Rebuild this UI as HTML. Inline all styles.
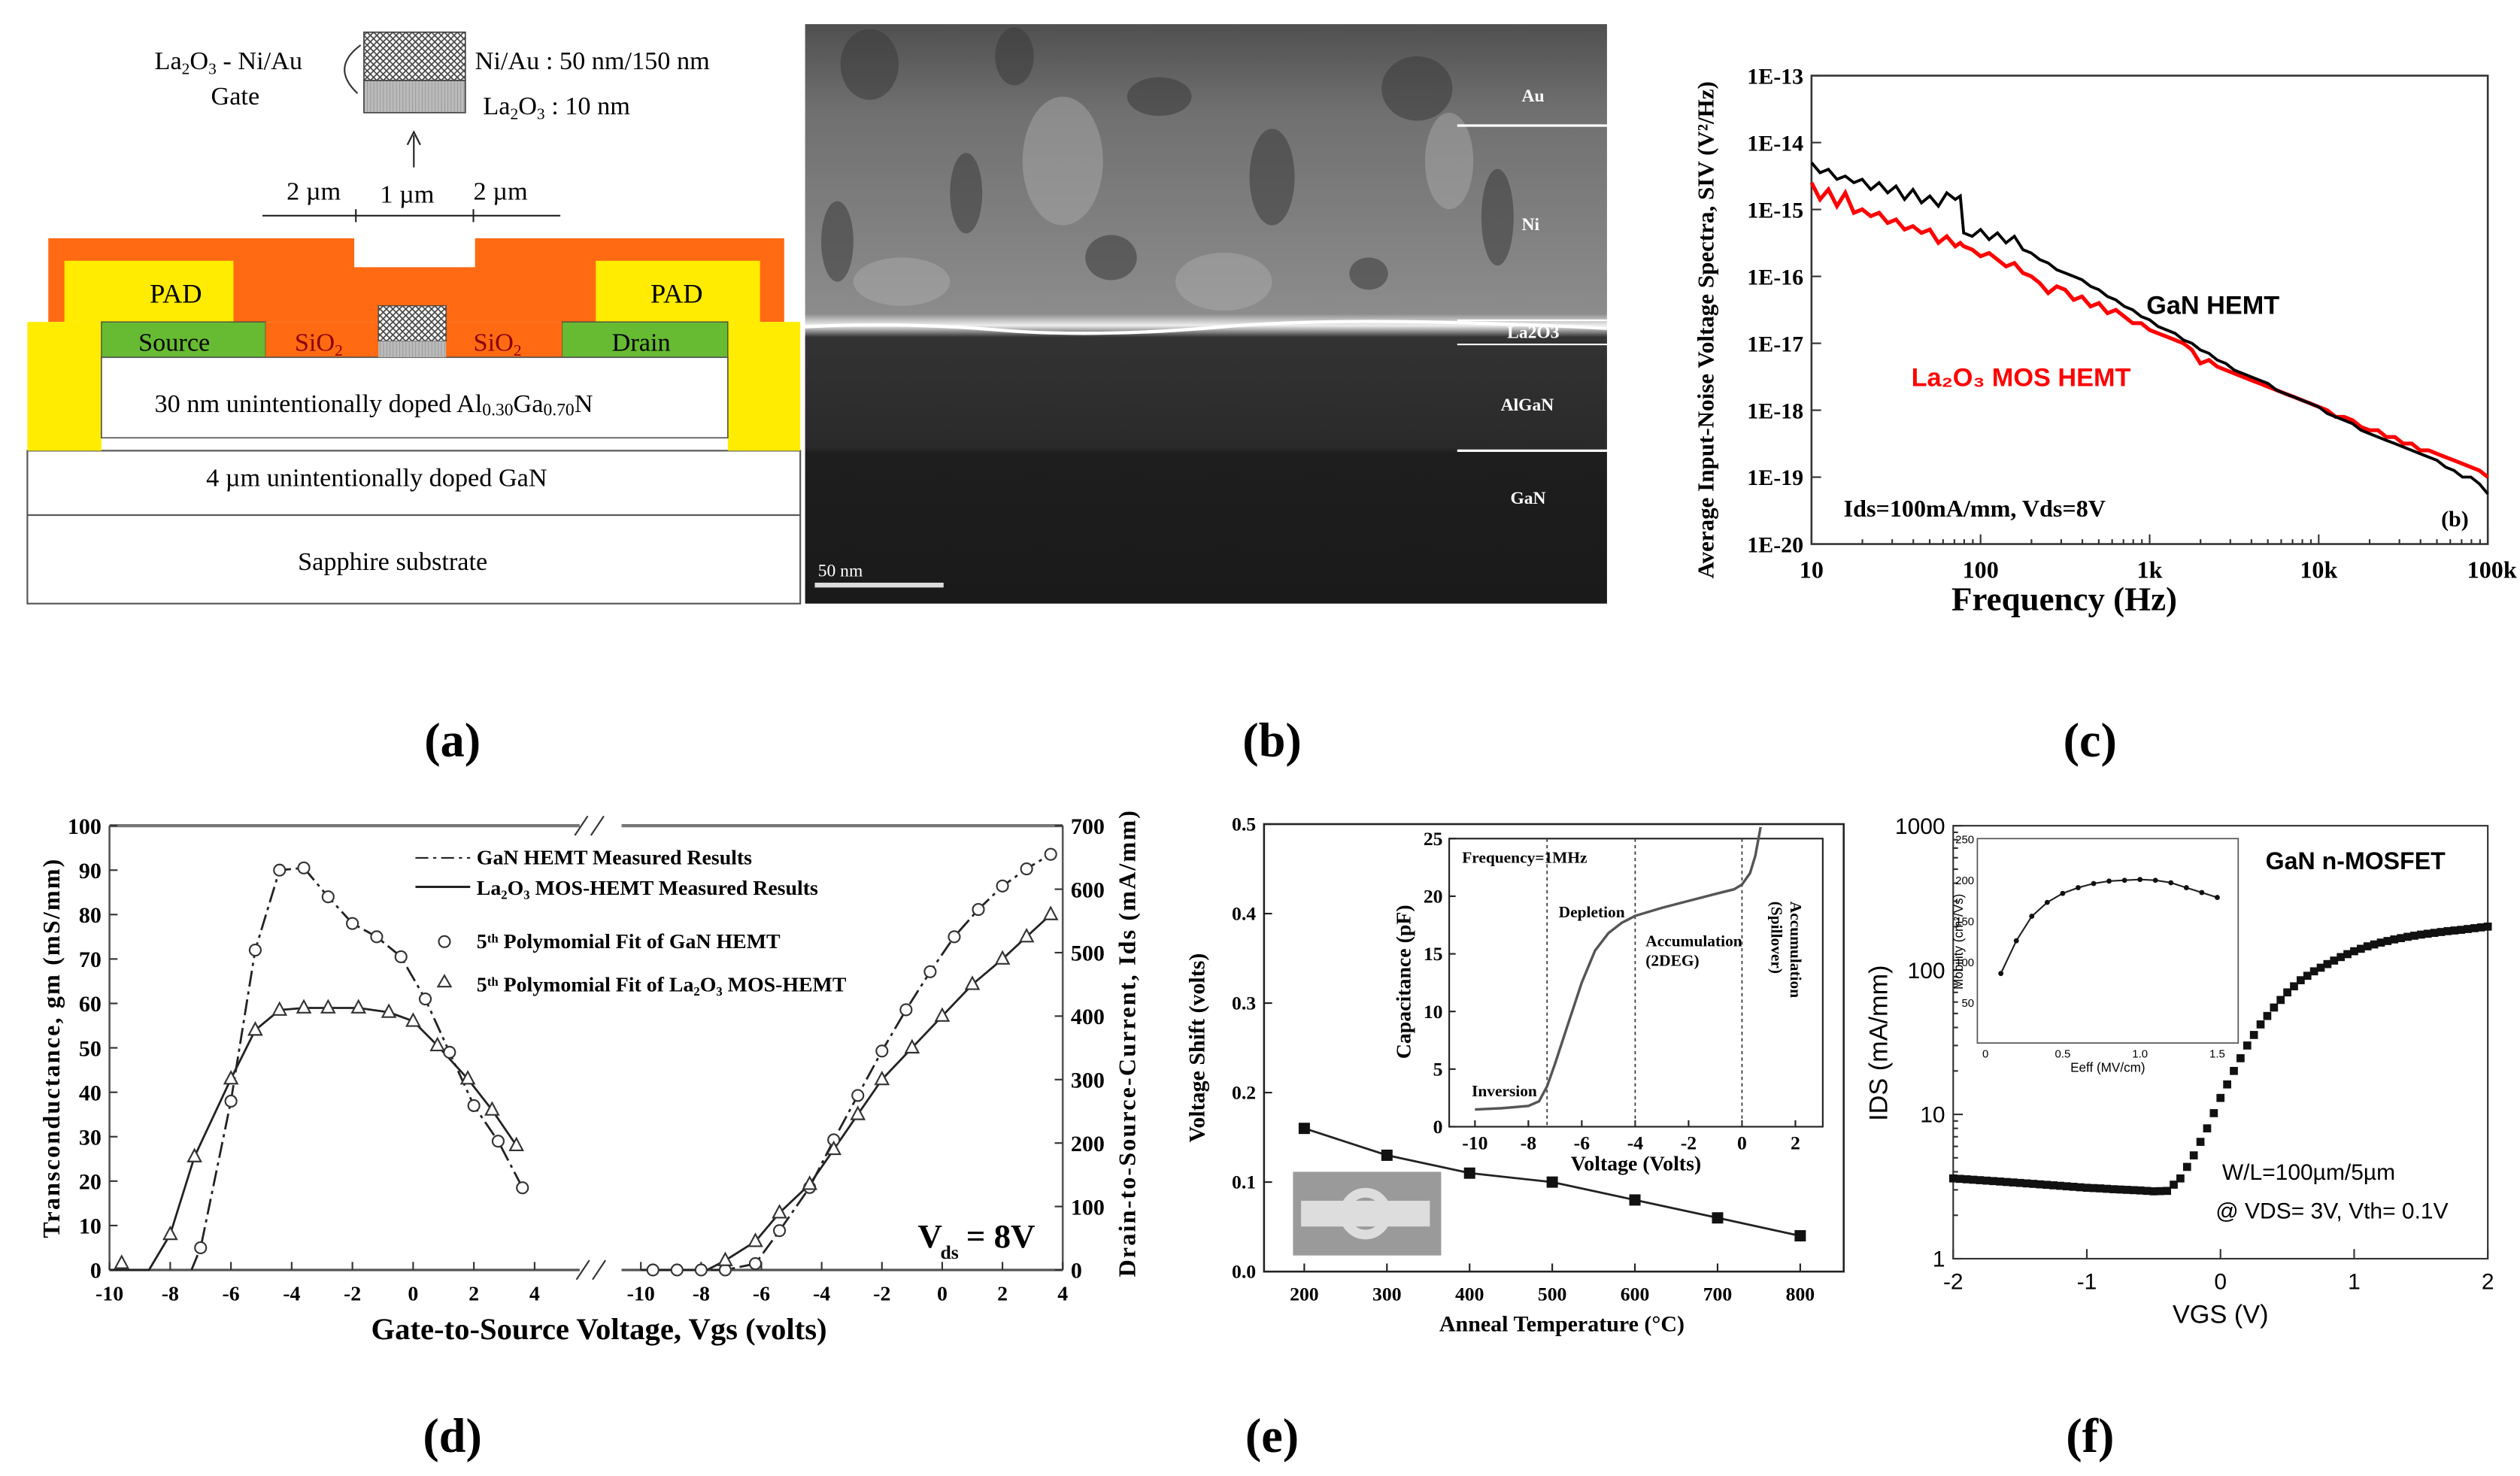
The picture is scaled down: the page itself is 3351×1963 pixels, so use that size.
<!DOCTYPE html>
<html><head><meta charset="utf-8"><style>
html,body{margin:0;padding:0;background:#fff}
svg{display:block}
.s{font-family:"Liberation Serif",serif}
.a{font-family:"Liberation Sans",sans-serif}
</style></head><body>
<svg id="fig" xmlns="http://www.w3.org/2000/svg" width="3351" height="1963" viewBox="0 0 1565 917" preserveAspectRatio="none">
<defs>
<pattern id="hatch" width="4" height="4" patternUnits="userSpaceOnUse"><rect width="4" height="4" fill="#fff"/><path d="M0 0L4 4M4 0L0 4" stroke="#444" stroke-width="0.8"/></pattern>
<pattern id="vl" width="2" height="4" patternUnits="userSpaceOnUse"><rect width="2" height="4" fill="#bbb"/><path d="M0 0V4" stroke="#888" stroke-width="0.6"/></pattern>
<linearGradient id="tem" x1="0" y1="0" x2="0" y2="1">
<stop offset="0" stop-color="#505050"/><stop offset="0.15" stop-color="#707070"/><stop offset="0.5" stop-color="#8c8c8c"/><stop offset="0.52" stop-color="#eee"/><stop offset="0.54" stop-color="#333"/><stop offset="0.73" stop-color="#2a2a2a"/><stop offset="0.74" stop-color="#1e1e1e"/><stop offset="1" stop-color="#1a1a1a"/></linearGradient>
</defs>

<!-- Panel a -->
<g class="s">
<rect x="17" y="280" width="480" height="95" fill="#fff" stroke="#555" stroke-width="1"/>
<line x1="17" y1="320" x2="497" y2="320" stroke="#555"/>
<path d="M30 200V148H220V166H295V148H487V200Z" fill="#ff6a13"/>
<rect x="17" y="200" width="46" height="80" fill="#ffec00"/>
<rect x="452" y="200" width="45" height="80" fill="#ffec00"/>
<rect x="40" y="162" width="105" height="38" fill="#ffec00"/>
<rect x="370" y="162" width="102" height="38" fill="#ffec00"/>
<rect x="63" y="200" width="102" height="22" fill="#66bb33" stroke="#444" stroke-width="0.6"/>
<rect x="349" y="200" width="103" height="22" fill="#66bb33" stroke="#444" stroke-width="0.6"/>
<rect x="165" y="200" width="184" height="22" fill="#ff6a13"/>
<rect x="63" y="222" width="389" height="50" fill="#fff" stroke="#555" stroke-width="0.8"/>
<rect x="235" y="190" width="42" height="22" fill="url(#hatch)" stroke="#444" stroke-width="0.6"/>
<rect x="235" y="212" width="42" height="10" fill="url(#vl)"/>
<text x="93" y="188" font-size="17">PAD</text>
<text x="404" y="188" font-size="17">PAD</text>
<text x="86" y="218" font-size="16">Source</text>
<text x="380" y="218" font-size="16">Drain</text>
<text x="183" y="218" font-size="16" fill="#8b0000">SiO<tspan font-size="10" dy="3">2</tspan></text>
<text x="294" y="218" font-size="16" fill="#8b0000">SiO<tspan font-size="10" dy="3">2</tspan></text>
<text x="96" y="256" font-size="16">30 nm unintentionally doped Al<tspan font-size="11" dy="2">0.30</tspan><tspan dy="-2">Ga</tspan><tspan font-size="11" dy="2">0.70</tspan><tspan dy="-2">N</tspan></text>
<text x="128" y="302" font-size="16">4 µm unintentionally doped GaN</text>
<text x="185" y="354" font-size="16">Sapphire substrate</text>
<rect x="226" y="20" width="63" height="30" fill="url(#hatch)" stroke="#444" stroke-width="0.8"/>
<rect x="226" y="50" width="63" height="20" fill="url(#vl)" stroke="#444" stroke-width="0.8"/>
<text x="96" y="43" font-size="16">La<tspan font-size="10" dy="3">2</tspan><tspan dy="-3">O</tspan><tspan font-size="10" dy="3">3</tspan><tspan dy="-3"> - Ni/Au</tspan></text>
<text x="131" y="65" font-size="16">Gate</text>
<path d="M224 28Q205 42 222 58" fill="none" stroke="#333"/>
<text x="295" y="43" font-size="16">Ni/Au : 50 nm/150 nm</text>
<text x="300" y="71" font-size="16">La<tspan font-size="10" dy="3">2</tspan><tspan dy="-3">O</tspan><tspan font-size="10" dy="3">3</tspan><tspan dy="-3"> : 10 nm</tspan></text>
<path d="M257 104V84M253 90L257 82L261 90" fill="none" stroke="#222"/>
<text x="178" y="124" font-size="16">2 µm</text>
<text x="236" y="126" font-size="16">1 µm</text>
<text x="294" y="124" font-size="16">2 µm</text>
<path d="M163 134H348M221 130V138M294 130V138" stroke="#222"/>
</g>

<!-- Panel b -->
<g>
<rect x="500" y="15" width="498" height="360" fill="url(#tem)"/>
<g fill="#3a3a3a" opacity="0.55">
<ellipse cx="540" cy="40" rx="18" ry="22"/><ellipse cx="630" cy="35" rx="12" ry="18"/><ellipse cx="720" cy="60" rx="20" ry="12"/><ellipse cx="880" cy="55" rx="22" ry="20"/><ellipse cx="600" cy="120" rx="10" ry="25"/><ellipse cx="790" cy="110" rx="14" ry="30"/><ellipse cx="930" cy="135" rx="10" ry="30"/><ellipse cx="690" cy="160" rx="16" ry="14"/><ellipse cx="850" cy="170" rx="12" ry="10"/><ellipse cx="520" cy="150" rx="10" ry="25"/>
</g>
<g fill="#b0b0b0" opacity="0.45">
<ellipse cx="660" cy="100" rx="25" ry="40"/><ellipse cx="560" cy="175" rx="30" ry="15"/><ellipse cx="760" cy="175" rx="30" ry="18"/><ellipse cx="900" cy="100" rx="15" ry="30"/>
</g>
<path d="M500 203Q560 200 620 205T760 203T998 204" stroke="#fff" stroke-width="2" fill="none"/>
<line x1="905" y1="78" x2="998" y2="78" stroke="#fff" stroke-width="1.5"/>
<line x1="905" y1="199" x2="998" y2="199" stroke="#fff" stroke-width="1"/>
<line x1="905" y1="214" x2="998" y2="214" stroke="#fff" stroke-width="1"/>
<line x1="905" y1="280" x2="998" y2="280" stroke="#fff" stroke-width="1.5"/>
<g class="s" font-size="11" fill="#fff" font-weight="bold">
<text x="945" y="63">Au</text><text x="945" y="143">Ni</text><text x="936" y="210">La2O3</text><text x="932" y="255">AlGaN</text><text x="938" y="313">GaN</text>
<text x="508" y="358" font-weight="normal">50 nm</text></g>
<rect x="506" y="362" width="80" height="3" fill="#ddd"/>
</g>

<!-- Panel labels -->
<g class="s" font-size="30" font-weight="bold">
<text x="281" y="470" text-anchor="middle">(a)</text><text x="790" y="470" text-anchor="middle">(b)</text><text x="1298" y="470" text-anchor="middle">(c)</text>
<text x="281" y="902" text-anchor="middle">(d)</text><text x="790" y="902" text-anchor="middle">(e)</text><text x="1298" y="902" text-anchor="middle">(f)</text>
</g>
<g id="gc"></g>
<g id="gd"></g>
<g id="ge"></g>
<g id="gf"></g>
</svg>
<script>
// ---------- data ----------
const cFreqExp=[1.0,1.05,1.1,1.15,1.2,1.25,1.3,1.35,1.4,1.45,1.5,1.55,1.6,1.65,1.7,1.75,1.8,1.85,1.88,1.9,1.95,2.0,2.05,2.1,2.15,2.2,2.25,2.3,2.35,2.4,2.45,2.5,2.55,2.6,2.65,2.7,2.75,2.8,2.85,2.9,2.95,3.0,3.05,3.1,3.15,3.2,3.25,3.3,3.35,3.4,3.45,3.5,3.55,3.6,3.65,3.7,3.75,3.8,3.85,3.9,3.95,4.0,4.05,4.1,4.15,4.2,4.25,4.3,4.35,4.4,4.45,4.5,4.55,4.6,4.65,4.7,4.75,4.8,4.85,4.9,4.95,5.0];
const cGanLog=[-14.3,-14.45,-14.4,-14.55,-14.5,-14.6,-14.55,-14.7,-14.6,-14.75,-14.65,-14.85,-14.7,-14.9,-14.8,-14.95,-14.75,-14.85,-14.8,-15.35,-15.4,-15.3,-15.45,-15.35,-15.5,-15.4,-15.6,-15.65,-15.75,-15.8,-15.9,-15.95,-16.0,-16.05,-16.15,-16.2,-16.3,-16.35,-16.45,-16.5,-16.6,-16.65,-16.75,-16.8,-16.85,-16.95,-17.0,-17.1,-17.15,-17.25,-17.3,-17.4,-17.45,-17.5,-17.55,-17.6,-17.7,-17.75,-17.8,-17.85,-17.9,-17.95,-18.05,-18.1,-18.15,-18.2,-18.3,-18.35,-18.4,-18.45,-18.5,-18.55,-18.6,-18.65,-18.7,-18.75,-18.85,-18.9,-19.0,-19.0,-19.1,-19.25];
const cLaLog=[-14.6,-14.85,-14.7,-14.95,-14.75,-15.05,-15.0,-15.1,-15.05,-15.2,-15.15,-15.3,-15.25,-15.35,-15.3,-15.5,-15.4,-15.55,-15.5,-15.55,-15.6,-15.7,-15.65,-15.75,-15.85,-15.8,-15.95,-16.0,-16.1,-16.25,-16.15,-16.2,-16.35,-16.3,-16.45,-16.4,-16.55,-16.5,-16.6,-16.7,-16.7,-16.8,-16.85,-16.9,-16.95,-17.0,-17.1,-17.3,-17.25,-17.35,-17.4,-17.45,-17.5,-17.55,-17.6,-17.65,-17.7,-17.75,-17.8,-17.85,-17.9,-17.95,-18.0,-18.1,-18.1,-18.15,-18.25,-18.3,-18.3,-18.4,-18.4,-18.5,-18.5,-18.6,-18.6,-18.65,-18.7,-18.75,-18.8,-18.85,-18.9,-19.0];
const cYTicks=["1E-13","1E-14","1E-15","1E-16","1E-17","1E-18","1E-19","1E-20"];
const cXTicks=["10","100","1k","10k","100k"];

const dGmGanV=[-7,-6,-5.2,-4.4,-3.6,-2.8,-2,-1.2,-0.4,0.4,1.2,2,2.8,3.6];
const dGmGan=[5,38,72,90,90.5,84,78,75,70.5,61,49,37,29,18.5];
const dGmLaV=[-9.6,-8,-7.2,-6,-5.2,-4.4,-3.6,-2.8,-1.8,-0.8,0,0.8,1.8,2.6,3.4];
const dGmLa=[1.5,8,25.5,43,54,58.5,59,59,59,58,56,50.5,43,36,28];
const dIdGanV=[-9.6,-8.8,-8,-7.2,-6.2,-5.4,-4.4,-3.6,-2.8,-2,-1.2,-0.4,0.4,1.2,2,2.8,3.6];
const dIdGan=[0,0,0,0,10,62,130,205,275,345,410,470,525,568,605,632,655];
const dIdLaV=[-7.2,-6.2,-5.4,-4.4,-3.6,-2.8,-2,-1,0,1,2,2.8,3.6];
const dIdLa=[15,45,90,135,190,245,300,350,400,450,490,525,560];
const dXTicks=[-10,-8,-6,-4,-2,0,2,4];
const dYTicks=[0,10,20,30,40,50,60,70,80,90,100];
const dY2Ticks=[0,100,200,300,400,500,600,700];

const eTemp=[200,300,400,500,600,700,800];
const eShift=[0.16,0.13,0.11,0.10,0.08,0.06,0.04];
const eXTicks=[200,300,400,500,600,700,800];
const eYTicks=[0,0.1,0.2,0.3,0.4,0.5];
const eCvV=[-10,-9,-8,-7.6,-7.3,-7,-6.5,-6,-5.5,-5,-4.5,-4,-3,-2,-1,-0.3,0,0.3,0.5,0.7];
const eCvC=[1.5,1.6,1.8,2.2,3.5,5.5,9,12.5,15.3,16.8,17.7,18.3,19,19.6,20.2,20.6,21,22,23.5,26];
const eInXTicks=[-10,-8,-6,-4,-2,0,2];
const eInYTicks=[0,5,10,15,20,25];

const fVgs=[-2,-1.9,-1.8,-1.7,-1.6,-1.5,-1.4,-1.3,-1.2,-1.1,-1,-0.9,-0.8,-0.7,-0.6,-0.5,-0.4,-0.3,-0.2,-0.1,0,0.1,0.2,0.3,0.4,0.5,0.6,0.7,0.8,0.9,1,1.1,1.2,1.3,1.4,1.5,1.6,1.7,1.8,1.9,2];
const fIds=[3.6,3.55,3.5,3.45,3.4,3.35,3.3,3.25,3.2,3.15,3.1,3.07,3.03,3.0,2.97,2.93,2.95,3.6,5.2,8,13,20,30,42,55,70,85,98,110,123,135,146,155,163,170,176,181,186,190,195,200];
const fXTicks=[-2,-1,0,1,2];
const fYTicks=["1","10","100","1000"];
const fMobE=[0.1,0.2,0.3,0.4,0.5,0.6,0.7,0.8,0.9,1.0,1.1,1.2,1.3,1.4,1.5];
const fMob=[85,125,155,172,183,190,195,198,199,200,199,196,190,184,178];
const fInXTicks=["0","0.5","1.0","1.5"];
const fInYTicks=[50,100,150,200,250];

// ---------- helpers ----------
const NS="http://www.w3.org/2000/svg";
function mk(p,t,a,txt){const e=document.createElementNS(NS,t);for(const k in a)e.setAttribute(k,a[k]);if(txt!==undefined)e.textContent=txt;p.appendChild(e);return e;}
function poly(xs,ys,fx,fy){return xs.map((v,i)=>(i?'L':'M')+fx(v).toFixed(1)+' '+fy(ys[i]).toFixed(1)).join('');}

// ---------- panel c ----------
(function(){
const g=document.getElementById('gc');
const X0=1125,X1=1545,Y0=338,Y1=47;
const fx=e=>X0+(e-1)/4*(X1-X0), fy=l=>Y1+(-13-l)/7*(Y0-Y1);
let r=mk(g,'rect',{x:X0,y:Y1,width:X1-X0,height:Y0-Y1,fill:'none',stroke:'#333','stroke-width':1.2});

cYTicks.forEach((t,i)=>{const y=Y1+i*(Y0-Y1)/7;mk(g,'line',{x1:X0,y1:y,x2:X0+6,y2:y,stroke:'#333'});
 let e=mk(g,'text',{x:X0-5,y:y+5,'text-anchor':'end','font-size':14,'font-weight':'bold',class:'s'},t);
 });
cXTicks.forEach((t,i)=>{const x=X0+i*(X1-X0)/4;mk(g,'line',{x1:x,y1:Y0,x2:x,y2:Y0-6,stroke:'#333'});
 for(let k=2;k<10&&i<4;k++){const xm=x+Math.log10(k)*(X1-X0)/4;mk(g,'line',{x1:xm,y1:Y0,x2:xm,y2:Y0-3,stroke:'#333'});}
 let e=mk(g,'text',{x:i==4?1563:x,y:Y0+21,'text-anchor':i==4?'end':'middle','font-size':15,'font-weight':'bold',class:'s'},t);
 });
let p=mk(g,'path',{d:poly(cFreqExp,cLaLog,fx,fy),fill:'none',stroke:'#f00','stroke-width':2.4});

p=mk(g,'path',{d:poly(cFreqExp,cGanLog,fx,fy),fill:'none',stroke:'#000','stroke-width':1.8});

let t=mk(g,'text',{x:1282,y:379,'text-anchor':'middle','font-size':21,'font-weight':'bold',class:'s'},'Frequency (Hz)');

t=mk(g,'text',{transform:'translate(1064,205) rotate(-90)','text-anchor':'middle','font-size':14.5,'font-weight':'bold',class:'s'},'Average Input-Noise Voltage Spectra, SIV (V²/Hz)');

t=mk(g,'text',{x:1333,y:195,'font-size':16,'font-weight':'bold',class:'a'},'GaN HEMT');

t=mk(g,'text',{x:1187,y:240,'font-size':16,'font-weight':'bold',fill:'#f00',class:'a'},'La₂O₃ MOS HEMT');

t=mk(g,'text',{x:1145,y:321,'font-size':15,'font-weight':'bold',class:'s'},'Ids=100mA/mm, Vds=8V');

t=mk(g,'text',{x:1516,y:327,'font-size':14,'font-weight':'bold',class:'s'},'(b)');

})();

// ---------- panel d ----------
(function(){
const g=document.getElementById('gd');
const YB=789,YT=513;
const xl=v=>68+(v+10)*264/14, xr=v=>398+(v+10)*262/14;
const yg=v=>YB-v*(YB-YT)/100, yi=v=>YB-v*(YB-YT)/700;
[[68,360],[386,660]].forEach(s=>{mk(g,'line',{x1:s[0],y1:YB,x2:s[1],y2:YB,stroke:'#555','stroke-width':1.5});mk(g,'line',{x1:s[0],y1:YT,x2:s[1],y2:YT,stroke:'#777','stroke-width':2});});
mk(g,'line',{x1:68,y1:YT,x2:68,y2:YB,stroke:'#555','stroke-width':1.2});
mk(g,'line',{x1:660,y1:YT,x2:660,y2:YB,stroke:'#555','stroke-width':1.2});
[[358,795,366,783],[368,795,376,783],[357,519,365,507],[367,519,375,507]].forEach(a=>mk(g,'line',{x1:a[0],y1:a[1],x2:a[2],y2:a[3],stroke:'#333'}));
dYTicks.forEach(v=>{mk(g,'line',{x1:68,y1:yg(v),x2:73,y2:yg(v),stroke:'#333'});
 let e=mk(g,'text',{x:63,y:yg(v)+5,'text-anchor':'end','font-size':14,'font-weight':'bold',class:'s'},v);});
dY2Ticks.forEach(v=>{mk(g,'line',{x1:655,y1:yi(v),x2:660,y2:yi(v),stroke:'#333'});
 let e=mk(g,'text',{x:665,y:yi(v)+5,'font-size':14,'font-weight':'bold',class:'s'},v);});
dXTicks.forEach(v=>{[xl,xr].forEach(f=>{mk(g,'line',{x1:f(v),y1:YB,x2:f(v),y2:YB-5,stroke:'#333'});
 let e=mk(g,'text',{x:f(v),y:YB+19,'text-anchor':'middle','font-size':13,'font-weight':'bold',class:'s'},v);});});
let p=mk(g,'path',{d:'M'+xl(-7.3)+' '+yg(0)+poly(dGmGanV,dGmGan,xl,yg).replace('M','L'),fill:'none',stroke:'#222','stroke-width':1.3,'stroke-dasharray':'10 3 2 3'});

p=mk(g,'path',{d:'M'+xl(-10)+' '+yg(0)+'L'+xl(-8.7)+' '+yg(0)+poly(dGmLaV.slice(1),dGmLa.slice(1),xl,yg).replace('M','L'),fill:'none',stroke:'#222','stroke-width':1.3});

p=mk(g,'path',{d:poly(dIdGanV,dIdGan,xr,yi),fill:'none',stroke:'#222','stroke-width':1.3,'stroke-dasharray':'10 3 2 3'});

p=mk(g,'path',{d:'M'+xr(-10)+' '+yi(0)+'L'+xr(-7.8)+' '+yi(0)+poly(dIdLaV,dIdLa,xr,yi).replace('M','L'),fill:'none',stroke:'#222','stroke-width':1.3});

function circ(xs,ys,fx,fy,nm){xs.forEach((v,i)=>{let c=mk(g,'circle',{cx:fx(v),cy:fy(ys[i]),r:3.5,fill:'#fff',stroke:'#333','stroke-width':1});});}
function tri(xs,ys,fx,fy,nm){xs.forEach((v,i)=>{const x=fx(v),y=fy(ys[i]);let c=mk(g,'path',{d:`M${x} ${y-4.5}L${x+4} ${y+3}L${x-4} ${y+3}Z`,fill:'#fff',stroke:'#333','stroke-width':1});});}
circ(dGmGanV,dGmGan,xl,yg,'gan-gm-point');tri(dGmLaV,dGmLa,xl,yg,'la2o3-gm-point');
circ(dIdGanV,dIdGan,xr,yi,'gan-ids-point');tri(dIdLaV,dIdLa,xr,yi,'la2o3-ids-point');
const L=[['GaN HEMT Measured Results',533],['La₂O₃ MOS-HEMT Measured Results',552],['5ᵗʰ Polymomial Fit of GaN HEMT',585],['5ᵗʰ Polymomial Fit of La₂O₃ MOS-HEMT',612]];
L.forEach((l,i)=>{let t=mk(g,'text',{x:296,y:l[1]+4,'font-size':13,'font-weight':'bold',class:'s'},l[0]);});
mk(g,'line',{x1:258,y1:533,x2:292,y2:533,stroke:'#222','stroke-dasharray':'8 3 2 3'});
mk(g,'line',{x1:258,y1:551,x2:292,y2:551,stroke:'#222','stroke-width':1.4});
mk(g,'circle',{cx:276,cy:585,r:3.5,fill:'#fff',stroke:'#333'});
mk(g,'path',{d:'M276 606L280 613L272 613Z',fill:'#fff',stroke:'#333'});
let t=mk(g,'text',{x:570,y:775,'font-size':21,'font-weight':'bold',class:'s'},'V');
mk(g,'text',{x:584,y:782,'font-size':12,'font-weight':'bold',class:'s'},'ds');
mk(g,'text',{x:600,y:775,'font-size':21,'font-weight':'bold',class:'s'},'= 8V');
t=mk(g,'text',{x:372,y:832,'text-anchor':'middle','font-size':19,'font-weight':'bold',class:'s'},'Gate-to-Source Voltage, Vgs (volts)');
t=mk(g,'text',{transform:'translate(37,651) rotate(-90)','text-anchor':'middle','font-size':15,'font-weight':'bold','letter-spacing':1,class:'s'},'Transconductance, gm (mS/mm)');
t=mk(g,'text',{transform:'translate(705,648) rotate(-90)','text-anchor':'middle','font-size':15,'font-weight':'bold','letter-spacing':1,class:'s'},'Drain-to-Source-Current, Ids (mA/mm)');
})();

// ---------- panel e ----------
(function(){
const g=document.getElementById('ge');
const X0=785,X1=1145,YB=790,YT=512;
const fx=v=>810+(v-200)*(1118-810)/600, fy=v=>YB-v*(YB-YT)/0.5;
mk(g,'rect',{x:X0,y:YT,width:X1-X0,height:YB-YT,fill:'none',stroke:'#222','stroke-width':1.2});
eYTicks.forEach(v=>{mk(g,'line',{x1:X0,y1:fy(v),x2:X0+5,y2:fy(v),stroke:'#222'});let e=mk(g,'text',{x:X0-5,y:fy(v)+4,'text-anchor':'end','font-size':12,'font-weight':'bold',class:'s'},v.toFixed(1));});
eXTicks.forEach(v=>{mk(g,'line',{x1:fx(v),y1:YB,x2:fx(v),y2:YB-5,stroke:'#222'});let e=mk(g,'text',{x:fx(v),y:YB+18,'text-anchor':'middle','font-size':12,'font-weight':'bold',class:'s'},v);});
let p=mk(g,'path',{d:poly(eTemp,eShift,fx,fy),fill:'none',stroke:'#222','stroke-width':1.3});
eTemp.forEach((v,i)=>{let r=mk(g,'rect',{x:fx(v)-3.5,y:fy(eShift[i])-3.5,width:7,height:7,fill:'#111'});});
let t=mk(g,'text',{x:970,y:827,'text-anchor':'middle','font-size':14,'font-weight':'bold',class:'s'},'Anneal Temperature (°C)');
t=mk(g,'text',{transform:'translate(748,651) rotate(-90)','text-anchor':'middle','font-size':14,'font-weight':'bold',class:'s'},'Voltage Shift (volts)');
let r=mk(g,'rect',{x:803,y:728,width:92,height:52,fill:'#9a9a9a'});
mk(g,'rect',{x:808,y:746,width:80,height:16,fill:'#ddd'});
mk(g,'circle',{cx:848,cy:754,r:13,fill:'none',stroke:'#ddd','stroke-width':6});
const IX0=900,IX1=1132,IT=521,IB=700;
const ix=v=>916+(v+10)*(1115-916)/12, iy=v=>IB-v*(IB-IT)/25;
mk(g,'rect',{x:IX0,y:IT,width:IX1-IX0,height:IB-IT,fill:'#fff',stroke:'#222'});
eInYTicks.forEach(v=>{mk(g,'line',{x1:IX0,y1:iy(v),x2:IX0+4,y2:iy(v),stroke:'#222'});mk(g,'text',{x:IX0-4,y:iy(v)+4,'text-anchor':'end','font-size':12,'font-weight':'bold',class:'s'},v);});
eInXTicks.forEach(v=>{mk(g,'line',{x1:ix(v),y1:IB,x2:ix(v),y2:IB-4,stroke:'#222'});mk(g,'text',{x:ix(v),y:IB+14,'text-anchor':'middle','font-size':12,'font-weight':'bold',class:'s'},v);});
[-7.3,-4,0].forEach(v=>mk(g,'line',{x1:ix(v),y1:IT,x2:ix(v),y2:IB,stroke:'#333','stroke-dasharray':'2 2','stroke-width':0.8}));
p=mk(g,'path',{d:poly(eCvV,eCvC,ix,iy),fill:'none',stroke:'#555','stroke-width':1.6});
const it=[['Frequency=1MHz',908,536],['Depletion',968,570],['Accumulation',1022,588],['(2DEG)',1022,600],['Inversion',914,681]];
it.forEach(a=>mk(g,'text',{x:a[1],y:a[2],'font-size':10,'font-weight':'bold',class:'s'},a[0]));
mk(g,'text',{transform:'translate(1112,560) rotate(90)','font-size':10,'font-weight':'bold',class:'s'},'Accumulation');
mk(g,'text',{transform:'translate(1100,560) rotate(90)','font-size':10,'font-weight':'bold',class:'s'},'(Spillover)');
t=mk(g,'text',{x:1016,y:727,'text-anchor':'middle','font-size':13,'font-weight':'bold',class:'s'},'Voltage (Volts)');
t=mk(g,'text',{transform:'translate(876,610) rotate(-90)','text-anchor':'middle','font-size':13,'font-weight':'bold',class:'s'},'Capacitance (pF)');
})();

// ---------- panel f ----------
(function(){
const g=document.getElementById('gf');
const X0=1213,X1=1545,YB=782,YT=513;
const fx=v=>X0+(v+2)*(X1-X0)/4, fy=v=>YB-Math.log10(v)*(YB-YT)/3;
mk(g,'rect',{x:X0,y:YT,width:X1-X0,height:YB-YT,fill:'none',stroke:'#333','stroke-width':1});
fYTicks.forEach((t,i)=>{const y=YB-i*(YB-YT)/3;mk(g,'line',{x1:X0,y1:y,x2:X0+6,y2:y,stroke:'#333'});
 if(i<3)for(let k=2;k<10;k++){const ym=y-Math.log10(k)*(YB-YT)/3;mk(g,'line',{x1:X0,y1:ym,x2:X0+3,y2:ym,stroke:'#333'});}
 let e=mk(g,'text',{x:X0-5,y:y+5,'text-anchor':'end','font-size':14,class:'a'},t);});
fXTicks.forEach(v=>{mk(g,'line',{x1:fx(v),y1:YB,x2:fx(v),y2:YB-6,stroke:'#333'});let e=mk(g,'text',{x:fx(v),y:YB+19,'text-anchor':'middle','font-size':14,class:'a'},v);});
fVgs.forEach((v,i)=>{let r=mk(g,'rect',{x:fx(v)-2.5,y:fy(fIds[i])-2.5,width:5,height:5,fill:'#111'});
 if(i<fVgs.length-1){const v2=(v+fVgs[i+1])/2,i2=Math.sqrt(fIds[i]*fIds[i+1]);let q=mk(g,'rect',{x:fx(v2)-2.5,y:fy(i2)-2.5,width:5,height:5,fill:'#111'});}});
let t=mk(g,'text',{x:1379,y:822,'text-anchor':'middle','font-size':16,class:'a'},'VGS (V)');
t=mk(g,'text',{transform:'translate(1172,648) rotate(-90)','text-anchor':'middle','font-size':16,class:'a'},'IDS (mA/mm)');
t=mk(g,'text',{x:1407,y:540,'font-size':15,'font-weight':'bold',class:'a'},'GaN n-MOSFET');
mk(g,'text',{x:1380,y:733,'font-size':14,class:'a'},'W/L=100µm/5µm');
mk(g,'text',{x:1376,y:757,'font-size':14,class:'a'},'@ VDS= 3V, Vth= 0.1V');
const IX0=1228,IX1=1390,IT=521,IB=648;
const ix=v=>1233+v*(1377-1233)/1.5, iy=v=>IB-v*(IB-IT)/250;
mk(g,'rect',{x:IX0,y:IT,width:IX1-IX0,height:IB-IT,fill:'#fff',stroke:'#555','stroke-width':0.8});
fInYTicks.forEach(v=>mk(g,'text',{x:IX0-2,y:iy(v)+3,'text-anchor':'end','font-size':7,class:'a'},v));
fInXTicks.forEach((s,i)=>mk(g,'text',{x:ix(i*0.5),y:IB+9,'text-anchor':'middle','font-size':7,class:'a'},s));
let p=mk(g,'path',{d:poly(fMobE,fMob,ix,iy),fill:'none',stroke:'#222','stroke-width':1});
fMobE.forEach((v,i)=>{let c=mk(g,'circle',{cx:ix(v),cy:iy(fMob[i]),r:1.6,fill:'#111'});});
mk(g,'text',{x:1309,y:666,'text-anchor':'middle','font-size':8,class:'a'},'Eeff (MV/cm)');
mk(g,'text',{transform:'translate(1219,585) rotate(-90)','text-anchor':'middle','font-size':8,class:'a'},'Mobility (cm²/Vs)');
})();
</script>
</body></html>
